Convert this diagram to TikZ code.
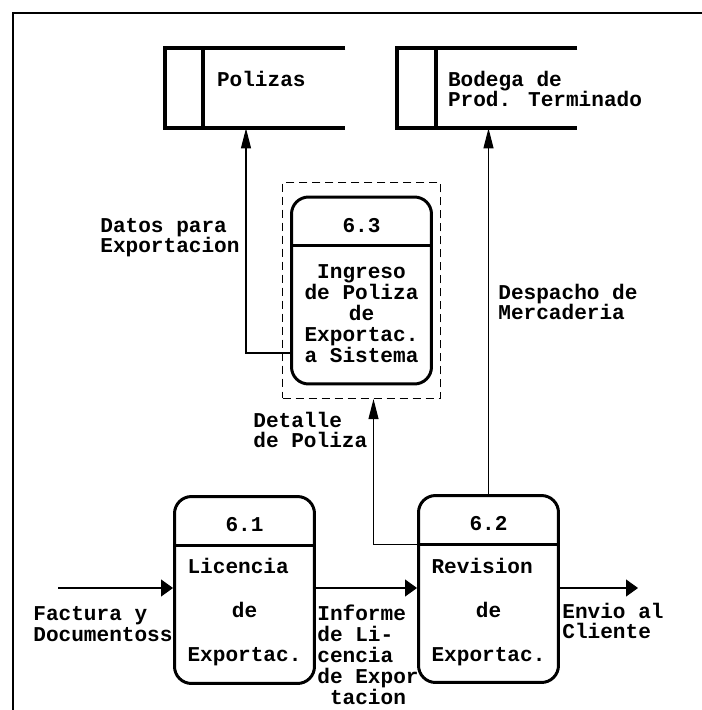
\documentclass[tikz,border=0pt]{standalone}
\usepackage{fontspec}
\setmainfont{Liberation Mono}
\usetikzlibrary{positioning,calc,fit,arrows.meta}

\begin{document}
\begin{tikzpicture}[x=0.02cm,y=-0.02cm,
  every node/.style={font=\bfseries\fontsize{12}{11.5}\selectfont},
  proc/.style={draw,line width=1.7pt,rounded corners=0.34cm,minimum width=2.8cm,minimum height=3.74cm,inner sep=0},
  store/.style={minimum width=3.6cm,minimum height=1.6cm,inner sep=0},
  wall/.style={line width=2.2pt},
  fence/.style={draw,line width=0.7pt,dash pattern=on 0.16cm off 0.1cm,inner xsep=0.15cm,inner ysep=0.26cm},
  lbl/.style={align=left,inner sep=0,anchor=west},
  body/.style={align=center,inner sep=0},
  hflow/.style={line width=0.6pt,-{Triangle[length=0.24cm,width=0.34cm]}},
  vflow/.style={line width=0.6pt,-{Triangle[length=0.4cm,width=0.2cm]}}]

  \useasboundingbox (0,0) rectangle (702,710);
  \draw[line width=0.8pt] (13,710) |- (702,13);

  \node[store] (polizas) at (255,88) {};
  \node[store] (bodega) at (487,88) {};
  \draw[wall] (polizas.north east) -- (polizas.north west) -- (polizas.south west) -- (polizas.south east);
  \draw[wall] ($(polizas.north west)+(38,0)$) -- ($(polizas.south west)+(38,0)$);
  \draw[wall] (bodega.north east) -- (bodega.north west) -- (bodega.south west) -- (bodega.south east);
  \draw[wall] ($(bodega.north west)+(39,0)$) -- ($(bodega.south west)+(39,0)$);
  \node[lbl] (poltxt) at ($(polizas.west)+(52,-9)$) {Polizas};
  \node[lbl] (bodtxt) at ($(bodega.west)+(51,1)$) {Bodega de\\Prod. Terminado};

  \node[proc] (p61) at (244.5,590) {};
  \node[proc] (p62) at (488.5,589) {};
  \node[proc] (p63) at (361.5,290.5) {};
  \node[fence,fit=(p63)] (f63) {};

  \draw[line width=1.7pt] ($(p61.north west)+(0,50)$) -- ($(p61.north east)+(0,50)$);
  \draw[line width=1.7pt] ($(p62.north west)+(0,50)$) -- ($(p62.north east)+(0,50)$);
  \draw[line width=1.7pt] ($(p63.north west)+(0,50)$) -- ($(p63.north east)+(0,50)$);

  \node (n61) at ($(p61.north)+(0,30)$) {6.1};
  \node (n62) at ($(p62.north)+(0,30)$) {6.2};
  \node (n63) at ($(p63.north)+(0,30)$) {6.3};
  \node[body,font=\bfseries\fontsize{12}{25}\selectfont] (t61) at ($(p61.center)+(0,22)$) {Licencia\phantom{x}\\de\\Exportac.};
  \node[body,font=\bfseries\fontsize{12}{25}\selectfont] (t62) at ($(p62.center)+(0,23)$) {Revision\phantom{x}\\de\\Exportac.};
  \node[body,font=\bfseries\fontsize{12}{12}\selectfont] (t63) at ($(p63.center)+(0,23)$) {Ingreso\\de Poliza\\de\\Exportac.\\a Sistema};

  \coordinate (in61) at (58,588);
  \coordinate (out62) at (638,588);
  \draw[hflow] (in61) -- (p61.west |- in61);
  \draw[hflow] (p61.east |- in61) -- (p62.west |- in61);
  \draw[hflow] (p62.east |- out62) -- (out62);
  \draw[vflow] ($(p63.west)+(0,62.5)$) -| ($(polizas.south)+(-9,0)$);
  \draw[vflow] (p62.north) -- (p62.north |- bodega.south);
  \draw[vflow] ($(p62.north west)+(0,50)$) -| ($(f63.south)+(12,0)$);

  \node[lbl] (factura) at (33,624) {Factura y\\Documentoss};
  \node[lbl,font=\bfseries\fontsize{12}{11.9}\selectfont] (informe) at (317,655) {Informe\\de Li-\\cencia\\de Expor\\\phantom{x}tacion};
  \node[lbl] (envio) at (562,621) {Envio al\\Cliente};
  \node[lbl] (datos) at (100,238) {Datos para\\Exportacion};
  \node[lbl] (detalle) at (253,430) {Detalle\\de Poliza};
  \node[lbl] (despacho) at (498,302) {Despacho de\\Mercaderia};
\end{tikzpicture}
\end{document}
